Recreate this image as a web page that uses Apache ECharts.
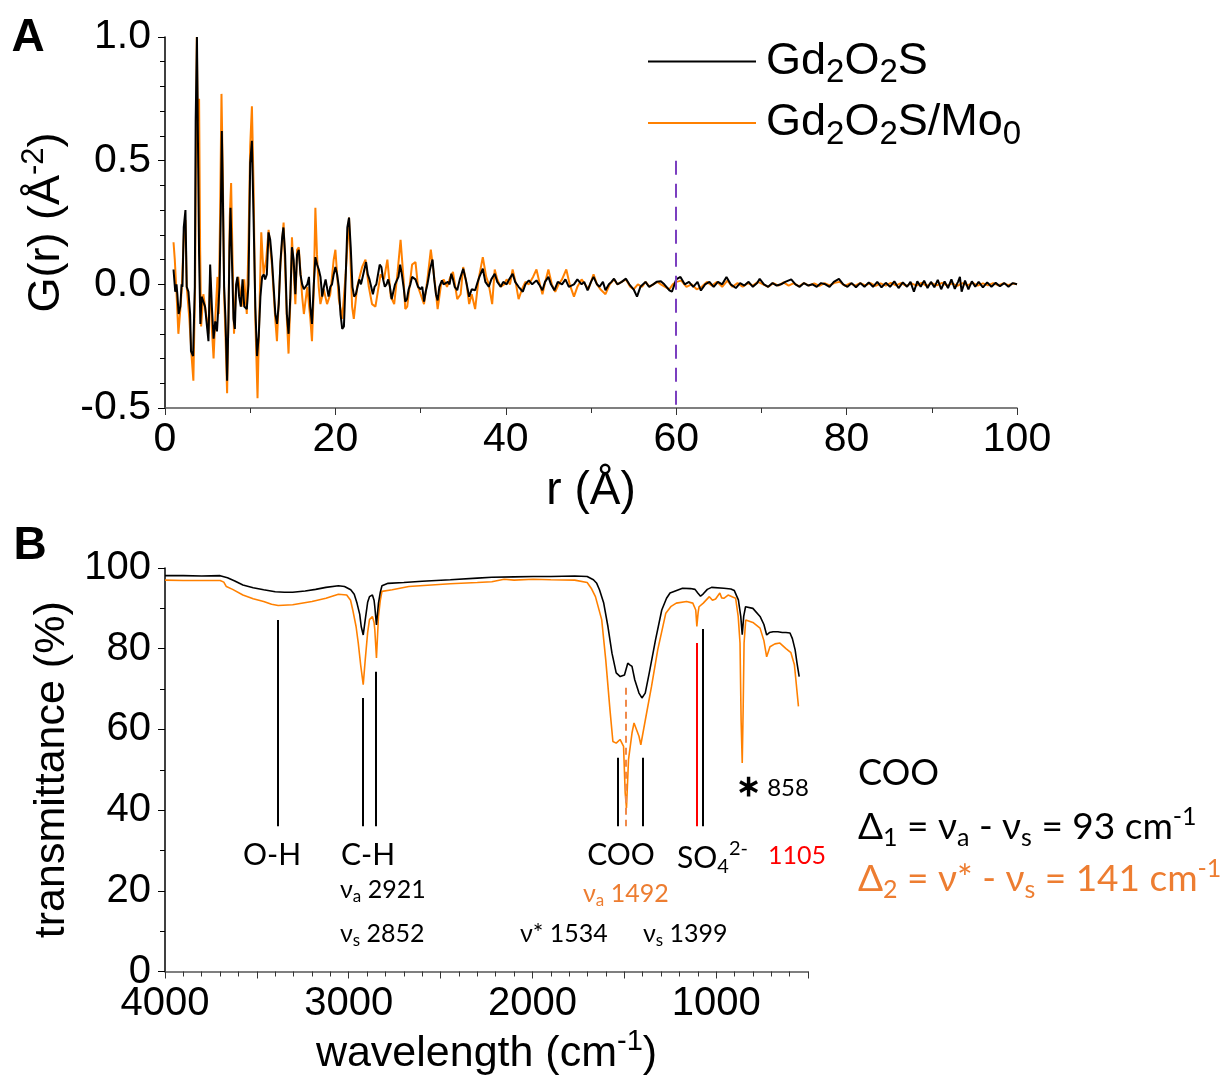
<!DOCTYPE html>
<html><head><meta charset="utf-8">
<script src="https://cdn.jsdelivr.net/npm/echarts/dist/echarts.min.js"></script>
<style>html,body{margin:0;padding:0;background:#fff}#c{width:1230px;height:1077px}</style>
</head><body><div id="c"></div>
<script>
// ---------- Panel A: PDF G(r) ----------
const rTicks = [0, 20, 40, 60, 80, 100];
const gTicks = [-0.5, 0.0, 0.5, 1.0];
const pdfBlack = [[1.0,0.06],[1.2,-0.03],[1.35,0.0],[1.45,-0.04],[1.6,-0.12],[1.8,-0.09],[1.95,0.0],[2.05,-0.01],[2.2,0.23],[2.4,0.30],[2.55,-0.01],[2.75,-0.03],[2.95,-0.12],[3.05,-0.27],[3.3,-0.29],[3.5,-0.01],[3.6,0.66],[3.75,1.0],[3.9,0.47],[4.0,0.12],[4.15,-0.16],[4.3,-0.05],[4.5,-0.05],[4.7,-0.09],[4.9,-0.16],[5.1,-0.23],[5.3,0.08],[5.5,-0.09],[5.7,-0.22],[5.9,-0.15],[6.1,-0.19],[6.25,-0.19],[6.4,-0.01],[6.55,0.29],[6.67,0.62],[6.78,0.39],[6.94,-0.01],[7.1,-0.14],[7.29,-0.39],[7.45,-0.14],[7.57,0.15],[7.69,0.31],[7.84,0.12],[8.04,-0.14],[8.2,-0.18],[8.35,0.0],[8.5,0.03],[8.7,-0.05],[8.9,-0.09],[9.1,0.02],[9.3,-0.09],[9.6,-0.1],[9.8,0.0],[10.0,0.49],[10.2,0.58],[10.4,0.26],[10.6,-0.09],[10.8,-0.29],[11.0,-0.21],[11.2,-0.05],[11.4,0.03],[11.6,0.04],[11.75,0.02],[11.95,0.04],[12.15,0.21],[12.35,0.18],[12.55,0.1],[12.75,-0.01],[12.95,-0.12],[13.15,-0.16],[13.35,-0.08],[13.55,0.09],[13.75,0.19],[13.9,0.23],[14.1,0.12],[14.3,-0.12],[14.5,-0.2],[14.7,-0.06],[14.9,0.15],[15.1,0.1],[15.3,-0.04],[15.5,0.12],[15.7,0.14],[15.9,0.04],[16.1,0.0],[16.3,-0.02],[16.5,-0.01],[16.7,0.0],[16.9,0.03],[17.05,-0.09],[17.25,-0.16],[17.45,-0.01],[17.65,0.11],[17.85,0.08],[18.05,0.06],[18.25,0.03],[18.45,-0.05],[18.65,-0.01],[18.85,0.02],[19.0,-0.01],[19.2,-0.05],[19.4,-0.01],[19.6,0.0],[19.8,0.04],[20.0,0.07],[20.2,0.04],[20.4,-0.01],[20.6,-0.12],[20.8,-0.18],[21.0,-0.17],[21.2,0.02],[21.4,0.23],[21.6,0.27],[21.8,0.15],[22.0,-0.01],[22.2,-0.05],[22.4,-0.04],[22.6,-0.01],[22.8,0.02],[23.0,0.0],[23.2,0.03],[23.4,0.06],[23.6,0.09],[23.8,0.04],[24.0,0.02],[24.2,-0.01],[24.4,-0.04],[24.6,-0.01],[24.8,0.0],[25.0,0.04],[25.2,0.08],[25.4,0.07],[25.6,0.02],[25.8,-0.01],[26.0,0.0],[26.2,0.02],[26.4,-0.01],[26.6,-0.06],[26.8,-0.03],[27.0,0.0],[27.2,0.0],[27.4,0.03],[27.6,0.08],[27.8,0.04],[28.0,-0.01],[28.2,-0.07],[28.4,-0.06],[28.6,-0.02],[28.8,0.0],[29.0,0.03],[29.2,0.03],[29.4,0.02],[29.7,-0.01],[30.0,-0.02],[30.2,-0.01],[30.4,-0.07],[30.6,-0.03],[30.8,0.0],[31.1,0.06],[31.4,0.10],[31.6,0.02],[31.8,-0.04],[32.0,-0.065],[32.2,-0.01],[32.5,0.016],[32.7,0.0],[32.9,0.0],[33.2,0.01],[33.4,0.0],[33.6,0.043],[33.8,0.02],[34.0,-0.01],[34.3,-0.024],[34.6,0.02],[35.0,0.063],[35.3,0.02],[35.7,-0.05],[36.0,-0.02],[36.4,-0.024],[36.7,0.01],[36.9,0.03],[37.3,0.063],[37.6,0.01],[38.0,-0.01],[38.3,0.02],[38.7,0.043],[39.0,0.01],[39.4,-0.01],[39.7,0.01],[40.1,0.0],[40.4,0.02],[40.8,0.043],[41.1,0.01],[41.5,-0.01],[42.0,-0.03],[42.3,0.0],[42.7,0.016],[43.1,0.0],[43.6,0.016],[43.9,0.0],[44.3,-0.024],[44.6,0.01],[45.0,0.03],[45.3,0.0],[45.7,-0.024],[46.1,0.01],[46.6,0.0],[47.0,0.02],[47.4,-0.01],[48.0,0.0],[48.4,0.02],[48.9,0.0],[49.2,0.01],[49.6,-0.024],[50.0,0.01],[50.3,0.03],[50.7,0.0],[51.0,-0.01],[51.4,0.01],[51.7,-0.024],[52.1,0.0],[52.4,0.01],[52.7,0.023],[53.1,0.0],[53.6,0.01],[54.1,0.023],[54.5,0.0],[55.0,-0.02],[55.4,-0.05],[55.8,-0.01],[56.4,0.01],[56.8,-0.01],[57.3,0.0],[57.7,0.01],[58.2,0.012],[58.6,0.0],[59.2,-0.024],[59.5,-0.03],[59.8,0.0],[60.0,0.02],[60.5,0.03],[61.0,0.0],[61.5,0.01],[62.0,-0.01],[62.5,0.01],[62.9,-0.025],[63.4,0.0],[63.9,0.01],[64.4,-0.01],[64.9,0.01],[65.4,0.0],[65.9,0.03],[66.4,0.0],[67.0,-0.015],[67.5,0.005],[68.0,-0.005],[68.5,0.01],[69.0,-0.01],[69.5,0.005],[69.8,0.022],[70.3,0.0],[70.8,-0.01],[71.3,0.005],[71.8,-0.005],[72.3,0.0],[72.8,0.01],[73.5,0.02],[74.0,0.0],[74.5,-0.01],[75.0,0.005],[75.5,-0.005],[76.0,0.0],[76.5,-0.01],[77.0,0.005],[77.5,0.0],[78.0,-0.01],[78.5,0.01],[79.1,0.022],[79.6,0.0],[80.1,-0.01],[80.6,0.005],[81.1,-0.012],[81.6,0.005],[82.1,-0.01],[82.6,0.008],[83.1,-0.01],[83.6,0.01],[84.1,-0.012],[84.6,0.006],[85.1,-0.01],[85.6,0.012],[86.1,-0.015],[86.6,0.008],[87.1,-0.01],[87.5,0.01],[87.9,-0.03],[88.3,0.012],[88.7,-0.01],[89.1,0.015],[89.5,-0.015],[89.9,0.01],[90.3,-0.012],[90.7,0.018],[91.1,-0.02],[91.5,0.012],[91.9,-0.015],[92.3,0.02],[92.7,-0.018],[93.1,0.012],[93.3,0.03],[93.5,-0.03],[93.9,0.015],[94.3,-0.02],[94.7,0.012],[95.1,-0.01],[95.5,0.01],[96.0,-0.012],[96.5,0.008],[97.0,-0.01],[97.5,0.006],[98.0,-0.008],[98.5,0.005],[99.0,-0.01],[99.5,0.005],[100.0,0.0]];
const pdfOrange = [[1.0,0.17],[1.15,0.1],[1.37,-0.05],[1.57,-0.2],[1.76,-0.12],[1.96,-0.02],[2.24,0.22],[2.4,0.26],[2.55,-0.01],[2.86,-0.14],[3.14,-0.3],[3.33,-0.39],[3.53,-0.01],[3.73,1.0],[3.84,0.66],[4.0,0.75],[4.12,0.15],[4.24,-0.17],[4.5,-0.04],[4.9,-0.14],[5.1,-0.2],[5.3,0.03],[5.5,-0.18],[5.7,-0.3],[5.9,-0.14],[6.16,0.03],[6.3,-0.12],[6.47,0.29],[6.63,0.77],[6.78,0.46],[6.94,-0.04],[7.1,-0.21],[7.29,-0.44],[7.45,-0.12],[7.6,0.27],[7.76,0.41],[7.92,0.12],[8.1,-0.2],[8.35,-0.01],[8.6,0.03],[9.0,-0.09],[9.3,0.02],[9.6,-0.12],[9.8,0.17],[10.0,0.56],[10.2,0.72],[10.4,0.39],[10.6,-0.14],[10.86,-0.46],[11.06,-0.14],[11.3,0.21],[11.57,0.04],[11.88,0.1],[12.16,0.22],[12.55,0.08],[12.94,-0.14],[13.14,-0.23],[13.53,0.07],[13.92,0.25],[14.3,-0.14],[14.5,-0.28],[14.7,-0.08],[14.9,0.19],[15.3,-0.08],[15.5,0.14],[15.7,0.15],[16.1,-0.05],[16.3,-0.12],[16.7,-0.01],[17.06,-0.14],[17.25,-0.23],[17.45,-0.04],[17.65,0.31],[17.84,0.12],[18.04,-0.01],[18.24,-0.08],[18.63,-0.02],[19.02,-0.08],[19.4,-0.04],[19.8,0.1],[20.0,0.14],[20.4,-0.06],[20.8,-0.14],[21.2,0.04],[21.6,0.27],[21.96,-0.09],[22.16,-0.14],[22.55,-0.01],[23.14,0.07],[23.53,0.1],[23.92,-0.01],[24.3,-0.08],[24.7,-0.09],[25.3,0.04],[25.7,0.02],[26.1,0.1],[26.5,-0.05],[26.9,-0.08],[27.3,0.05],[27.65,0.18],[28.0,0.02],[28.2,-0.1],[28.43,-0.09],[29.0,0.08],[29.4,0.09],[29.7,-0.01],[30.0,-0.04],[30.4,-0.08],[30.8,0.02],[31.2,0.14],[31.4,0.14],[31.7,0.0],[32.0,-0.1],[32.4,0.0],[32.7,0.02],[33.1,-0.01],[33.5,0.03],[33.8,0.05],[34.3,-0.06],[34.7,-0.04],[35.0,0.07],[35.4,0.0],[35.7,-0.08],[36.0,-0.04],[36.4,-0.1],[36.8,0.02],[37.3,0.11],[37.7,0.03],[38.0,0.0],[38.4,-0.08],[38.7,0.06],[39.0,0.02],[39.4,-0.01],[39.8,0.0],[40.1,0.02],[40.5,0.0],[40.8,0.06],[41.2,0.0],[41.5,-0.06],[41.9,-0.02],[42.3,0.01],[42.7,0.0],[43.2,0.03],[43.6,0.06],[44.0,0.0],[44.3,-0.04],[44.7,0.02],[45.0,0.06],[45.4,0.0],[45.8,-0.03],[46.2,0.0],[46.6,0.02],[47.1,0.06],[47.5,0.0],[48.0,-0.05],[48.4,-0.01],[48.9,0.02],[49.3,0.0],[49.7,-0.02],[50.0,0.01],[50.3,0.04],[50.7,0.0],[51.1,-0.02],[51.7,-0.04],[52.2,0.0],[52.7,0.02],[53.1,0.0],[53.6,0.01],[54.1,0.02],[54.6,-0.01],[55.0,-0.02],[55.5,0.0],[56.0,-0.01],[56.4,0.01],[56.9,-0.01],[57.3,0.0],[57.8,0.01],[58.2,0.0],[58.7,-0.01],[59.2,-0.02],[59.6,0.0],[60.0,0.01],[60.6,0.015],[61.2,-0.01],[61.8,0.0],[62.4,-0.02],[63.0,-0.01],[63.6,0.01],[64.2,-0.005],[64.8,0.01],[65.4,-0.01],[66.0,0.015],[66.6,-0.01],[67.2,0.005],[67.8,-0.01],[68.4,0.005],[69.0,-0.005],[69.6,0.01],[70.2,0.0],[70.8,-0.01],[71.4,0.005],[72.0,-0.005],[72.6,0.008],[73.2,-0.005],[73.8,0.005],[74.4,-0.008],[75.0,0.005],[75.6,-0.005],[76.2,0.004],[76.8,-0.006],[77.4,0.005],[78.0,-0.004],[78.6,0.006],[79.2,0.01],[79.8,-0.006],[80.4,0.004],[81.0,-0.005],[81.6,0.005],[82.2,-0.004],[82.8,0.005],[83.4,-0.006],[84.0,0.004],[84.6,-0.005],[85.2,0.006],[85.8,-0.004],[86.4,0.005],[87.0,-0.006],[87.6,0.004],[88.2,-0.005],[88.8,0.006],[89.4,-0.006],[90.0,0.005],[90.6,-0.004],[91.2,0.006],[91.8,-0.005],[92.4,0.004],[93.0,-0.006],[93.6,0.005],[94.2,-0.004],[94.8,0.006],[95.4,-0.005],[96.0,0.004],[96.6,-0.004],[97.2,0.005],[97.8,-0.004],[98.4,0.004],[99.0,-0.003],[99.6,0.003],[100.0,0.0]];
const cutoffR = 60;
const cutoffTop = 0.5;

// ---------- Panel B: IR transmittance ----------
const wnTicks = [4000, 3000, 2000, 1000];
const tTicks = [0, 20, 40, 60, 80, 100];
const irBlack = [[4000,98.1],[3900,98.1],[3800,98.0],[3700,98.1],[3660,97.6],[3620,96.8],[3576,95.8],[3520,95.1],[3463,94.6],[3400,94.1],[3350,94.0],[3305,94.0],[3237,94.3],[3180,94.7],[3124,95.2],[3056,95.6],[3023,95.4],[2989,94.6],[2970,93.5],[2955,91.3],[2940,88.5],[2932,85.5],[2921,83.4],[2910,87.2],[2897,91.5],[2887,92.9],[2871,93.3],[2862,92.0],[2858,90.4],[2849,85.9],[2838,91.3],[2828,94.0],[2819,95.6],[2786,96.2],[2700,96.4],[2600,96.7],[2447,97.1],[2300,97.5],[2221,97.7],[2100,97.8],[1996,97.9],[1900,97.9],[1770,98.0],[1702,97.9],[1668,97.1],[1650,96.2],[1635,94.6],[1612,91.3],[1589,85.5],[1567,78.9],[1544,74.0],[1522,73.1],[1499,73.5],[1481,76.4],[1470,76.0],[1458,75.6],[1443,72.3],[1420,69.0],[1404,67.8],[1386,69.0],[1364,74.0],[1330,82.2],[1296,89.6],[1270,92.5],[1251,93.8],[1183,95.0],[1140,94.9],[1115,94.7],[1100,93.8],[1085,93.0],[1070,93.6],[1048,94.7],[1025,95.2],[958,95.0],[920,94.8],[901,94.4],[879,92.1],[866,88.0],[858,83.5],[850,88.0],[840,90.4],[834,90.8],[800,90.0],[761,88.0],[740,86.0],[725,83.4],[710,84.0],[690,84.2],[664,84.2],[640,84.0],[620,84.0],[598,83.9],[585,82.5],[570,79.7],[560,76.5],[548,73.1]];
const irOrange = [[4000,97.0],[3900,96.9],[3800,96.9],[3700,96.9],[3680,96.5],[3666,95.4],[3632,94.7],[3576,93.3],[3520,92.4],[3463,91.7],[3420,91.0],[3384,90.7],[3305,90.9],[3200,91.7],[3124,92.5],[3056,93.5],[3011,93.3],[2990,92.0],[2978,89.6],[2960,85.5],[2948,81.4],[2935,76.0],[2921,71.1],[2910,77.3],[2897,84.0],[2887,87.2],[2871,88.0],[2862,86.5],[2858,84.7],[2849,77.7],[2838,88.0],[2828,92.0],[2819,94.2],[2763,94.6],[2673,95.4],[2550,95.8],[2447,96.1],[2300,96.4],[2221,96.6],[2154,97.2],[2100,97.0],[1996,97.2],[1900,97.1],[1770,97.0],[1702,96.4],[1680,95.0],[1657,92.9],[1623,87.2],[1601,77.3],[1578,64.9],[1562,57.0],[1544,56.6],[1523,57.5],[1504,55.8],[1495,44.2],[1488,40.5],[1477,52.5],[1458,59.1],[1447,61.6],[1420,58.3],[1410,56.2],[1382,63.2],[1352,70.6],[1318,79.7],[1274,88.8],[1245,90.5],[1217,91.3],[1161,91.7],[1127,91.3],[1111,89.6],[1105,85.5],[1098,89.0],[1093,90.4],[1070,91.3],[1037,92.9],[1020,92.0],[1003,92.3],[980,93.8],[970,92.6],[958,92.5],[935,93.3],[910,92.8],[894,92.5],[880,88.0],[870,81.4],[864,62.0],[858,51.7],[853,65.0],[848,81.4],[839,87.1],[800,86.5],[761,85.1],[740,82.0],[725,78.0],[707,80.5],[680,81.2],[653,81.4],[620,80.0],[593,79.0],[574,76.0],[566,72.3],[552,65.7]];
// assignment lines: [wavenumber, top %, bottom %]
const bandBlack = [[3385,87.1,36],[2921,67.8,36],[2852,74.3,36],[1534,53,36],[1399,53,36],[1071,84.9,36]];
const bandRed = [[1105,81.4,36]];
const bandOrangeDash = [[1492,70.3,36]];

const AXF = '"Liberation Sans", Arial, sans-serif';
const ANF = 'Lato, "Open Sans", "Noto Sans", sans-serif';
const ORG = '#ff8000';
const TXT_ORG = '#ed7d31';

function supRich(size, color, font){
  return {
    m:{fontSize:size, fontFamily:font, color:color, fill:color, lineHeight:Math.round(size*1.25)},
    b:{fontSize:Math.round(size*0.68), fontFamily:font, color:color, fill:color, lineHeight:Math.round(size*0.5), verticalAlign:'bottom'},
    t:{fontSize:Math.round(size*0.68), fontFamily:font, color:color, fill:color, lineHeight:Math.round(size*0.5), verticalAlign:'top'}
  };
}

const markPairs = [];
bandBlack.forEach(b => markPairs.push([{coord:[b[0],b[1]], lineStyle:{color:'#000',width:2,type:'solid'}},{coord:[b[0],b[2]]}]));
bandRed.forEach(b => markPairs.push([{coord:[b[0],b[1]], lineStyle:{color:'#ff0000',width:2,type:'solid'}},{coord:[b[0],b[2]]}]));
bandOrangeDash.forEach(b => markPairs.push([{coord:[b[0],b[1]], lineStyle:{color:'#f08a4b',width:2,type:[7,5]}},{coord:[b[0],b[2]]}]));

const chart = echarts.init(document.getElementById('c'), null, {renderer:'canvas'});
const lblTop = {fontSize:41, fontFamily:AXF, color:'#000'};
const lblBot = {fontSize:40, fontFamily:AXF, color:'#000'};
const option = {
  animation:false,
  backgroundColor:'#fff',
  grid:[{left:165, top:37, width:852, height:371},{left:165, top:568, width:643, height:404}],
  legend:{
    data:['Gd2O2S','Gd2O2S/Mo0'], orient:'vertical', left:643, top:34,
    itemWidth:108, itemHeight:2, itemGap:11, icon:'rect', selectedMode:false,
    formatter: n => n === 'Gd2O2S' ? '{m|Gd}{b|2}{m|O}{b|2}{m|S}' : '{m|Gd}{b|2}{m|O}{b|2}{m|S/Mo}{b|0}',
    textStyle:{padding:[0,0,0,5], rich:{
      m:{fontSize:45, fontFamily:AXF, color:'#000', lineHeight:56},
      b:{fontSize:33, fontFamily:AXF, color:'#000', lineHeight:26, verticalAlign:'bottom'}}}
  },
  xAxis:[
    {gridIndex:0, type:'value', min:0, max:100, interval:20,
     axisLine:{show:true, onZero:false, lineStyle:{color:'#555', width:1.5}},
     axisTick:{show:true, length:7, lineStyle:{color:'#333'}},
     minorTick:{show:true, splitNumber:2, length:5, lineStyle:{color:'#333'}},
     splitLine:{show:false},
     axisLabel:Object.assign({margin:11}, lblTop),
     name:'r (Å)', nameLocation:'middle', nameGap:60,
     nameTextStyle:{fontSize:46, fontFamily:AXF, color:'#000'}},
    {gridIndex:1, type:'value', min:500, max:4000, interval:500, inverse:true,
     axisLine:{show:true, onZero:false, lineStyle:{color:'#555', width:1.5}},
     axisTick:{show:true, length:7, lineStyle:{color:'#333'}},
     minorTick:{show:true, splitNumber:5, length:5, lineStyle:{color:'#333'}},
     splitLine:{show:false},
     axisLabel:Object.assign({margin:12, formatter: v => wnTicks.indexOf(v) >= 0 ? String(v) : ''}, lblBot),
     name:'{m|wavelength (cm}{t|-1}{m|)}', nameLocation:'middle', nameGap:56,
     nameTextStyle:{rich:supRich(43, '#000', AXF)}}
  ],
  yAxis:[
    {gridIndex:0, type:'value', min:-0.5, max:1.0, interval:0.5,
     axisLine:{show:true, onZero:false, lineStyle:{color:'#000', width:1.5}},
     axisTick:{show:true, length:7, lineStyle:{color:'#000'}},
     minorTick:{show:true, splitNumber:5, length:5, lineStyle:{color:'#000'}},
     splitLine:{show:false},
     axisLabel:Object.assign({margin:14, formatter: v => gTicks.indexOf(v) >= 0 ? v.toFixed(1) : ''}, lblTop),
     name:'{m|G(r) (Å}{t|-2}{m|)}', nameLocation:'middle', nameGap:90, nameRotate:90,
     nameTextStyle:{rich:supRich(45, '#000', AXF)}},
    {gridIndex:1, type:'value', min:0, max:100, interval:20,
     axisLine:{show:true, onZero:false, lineStyle:{color:'#000', width:1.5}},
     axisTick:{show:true, length:7, lineStyle:{color:'#000'}},
     minorTick:{show:true, splitNumber:2, length:5, lineStyle:{color:'#000'}},
     splitLine:{show:false},
     axisLabel:Object.assign({margin:14, formatter: v => tTicks.indexOf(v) >= 0 ? String(v) : ''}, lblBot),
     name:'transmittance (%)', nameLocation:'middle', nameGap:84, nameRotate:90,
     nameTextStyle:{fontSize:43, fontFamily:AXF, color:'#000'}}
  ],
  series:[
    {name:'Gd2O2S/Mo0', type:'line', xAxisIndex:0, yAxisIndex:0, data:pdfOrange, showSymbol:false,
     lineStyle:{color:ORG, width:2}, itemStyle:{color:ORG}, z:2},
    {name:'Gd2O2S', type:'line', xAxisIndex:0, yAxisIndex:0, data:pdfBlack, showSymbol:false,
     lineStyle:{color:'#000', width:2}, itemStyle:{color:'#000'}, z:3,
     markLine:{silent:true, symbol:['none','none'], label:{show:false}, animation:false,
       lineStyle:{color:'#7b3fc0', width:2, type:[14,9]},
       data:[[{coord:[cutoffR, cutoffTop]},{coord:[cutoffR, -0.5]}]]}},
    {name:'IR Gd2O2S/Mo0', type:'line', xAxisIndex:1, yAxisIndex:1, data:irOrange, showSymbol:false,
     lineStyle:{color:ORG, width:1.6}, itemStyle:{color:ORG}, z:2},
    {name:'IR Gd2O2S', type:'line', xAxisIndex:1, yAxisIndex:1, data:irBlack, showSymbol:false,
     lineStyle:{color:'#000', width:1.6}, itemStyle:{color:'#000'}, z:3,
     markLine:{silent:true, symbol:['none','none'], label:{show:false}, animation:false, data:markPairs}}
  ],
  graphic:[
    {type:'text', x:28, y:38, style:{text:'A', fontSize:46, fontWeight:'bold', fontFamily:AXF, fill:'#000', align:'center', verticalAlign:'middle'}},
    {type:'text', x:30, y:546, style:{text:'B', fontSize:46, fontWeight:'bold', fontFamily:AXF, fill:'#000', align:'center', verticalAlign:'middle'}},
    {type:'text', x:272, y:855, style:{text:'O-H', fontSize:30, fontFamily:ANF, fill:'#000', align:'center', verticalAlign:'middle'}},
    {type:'text', x:368, y:855, style:{text:'C-H', fontSize:30, fontFamily:ANF, fill:'#000', align:'center', verticalAlign:'middle'}},
    {type:'text', x:621, y:855, style:{text:'COO', fontSize:30, fontFamily:ANF, fill:'#000', align:'center', verticalAlign:'middle'}},
    {type:'text', x:677, y:858, style:{text:'{m|SO}{b|4}{t|2-}', rich:supRich(30,'#000',ANF), align:'left', verticalAlign:'middle'}},
    {type:'text', x:768, y:856, style:{text:'1105', fontSize:25, fontFamily:ANF, fill:'#ff0000', align:'left', verticalAlign:'middle'}},
    {type:'text', x:340, y:890, style:{text:'{m|ν}{b|a}{m| 2921}', rich:supRich(25,'#000',ANF), align:'left', verticalAlign:'middle'}},
    {type:'text', x:340, y:934, style:{text:'{m|ν}{b|s}{m| 2852}', rich:supRich(25,'#000',ANF), align:'left', verticalAlign:'middle'}},
    {type:'text', x:583, y:894, style:{text:'{m|ν}{b|a}{m| 1492}', rich:supRich(25,TXT_ORG,ANF), align:'left', verticalAlign:'middle'}},
    {type:'text', x:520, y:934, style:{text:'{m|ν* 1534}', rich:supRich(25,'#000',ANF), align:'left', verticalAlign:'middle'}},
    {type:'text', x:643, y:934, style:{text:'{m|ν}{b|s}{m| 1399}', rich:supRich(25,'#000',ANF), align:'left', verticalAlign:'middle'}},
    {type:'text', x:736, y:788, style:{text:'{a|∗}{m| 858}', rich:Object.assign(supRich(24,'#000',ANF), {a:{fontSize:30, fontWeight:'bold', fontFamily:AXF, fill:'#000', lineHeight:30}}), align:'left', verticalAlign:'middle'}},
    {type:'text', x:858, y:773, style:{text:'COO', fontSize:36, fontFamily:ANF, fill:'#000', align:'left', verticalAlign:'middle'}},
    {type:'text', x:858, y:827, style:{text:'{m|Δ}{b|1}{m| = ν}{b|a}{m| - ν}{b|s}{m| = 93 cm}{t|-1}', rich:supRich(37,'#000',ANF), align:'left', verticalAlign:'middle'}},
    {type:'text', x:858, y:879, style:{text:'{m|Δ}{b|2}{m| = ν* - ν}{b|s}{m| = 141 cm}{t|-1}', rich:supRich(37,TXT_ORG,ANF), align:'left', verticalAlign:'middle'}}
  ]
};
chart.setOption(option);
</script></body></html>
